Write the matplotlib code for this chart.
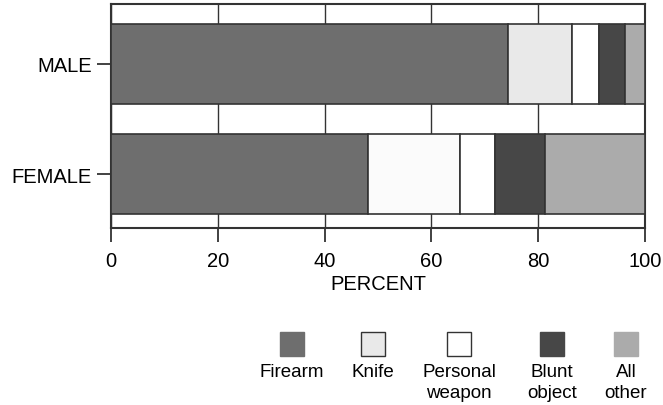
import matplotlib.pyplot as plt
from matplotlib.patches import Rectangle

plt.rcParams['font.family'] = ['Liberation Sans', 'DejaVu Sans']

groups = ['FEMALE', 'MALE']
weapons = ['Firearm', 'Knife', 'Personal\nweapon', 'Blunt\nobject', 'All\nother']
firearm = [48.2, 74.3]
knife = [17.1, 12.0]
personal = [6.6, 5.0]
blunt = [9.3, 5.0]
other = [18.8, 3.7]
colors = ['#6e6e6e', '#e9e9e9', '#ffffff', '#474747', '#ababab']
# the female knife bar prints almost white in the original
bar_colors = [colors[0], ['#fbfbfb', '#e9e9e9'], colors[2], colors[3], colors[4]]

fig = plt.figure(figsize=(6.63, 4.06), dpi=100)
ax = fig.add_axes([0.1674, 0.436, 0.8055, 0.5517])

ypos = [0, 1]
left = [0, 0]
for vals, c in zip([firearm, knife, personal, blunt, other], bar_colors):
    ax.barh(ypos, vals, left=left, height=0.73, color=c,
            edgecolor='#333333', linewidth=1.2, zorder=3)
    left = [a + b for a, b in zip(left, vals)]

ax.set_xlim(0, 100)
ax.set_ylim(-0.49, 1.545)
ax.set_xticks([0, 20, 40, 60, 80, 100])
ax.set_yticks(ypos)
ax.set_yticklabels(groups)
ax.xaxis.grid(True, color='#333333', linewidth=1.0, zorder=0)
ax.tick_params(axis='both', direction='out', length=10, width=1.3,
               labelsize=14.5, color='#333333', pad=4)
ax.tick_params(axis='x', length=10, pad=6.5)
for s in ax.spines.values():
    s.set_linewidth(1.5)
    s.set_color('#333333')
ax.set_xlabel('PERCENT', fontsize=14.5, labelpad=3)

# legend: squares with labels underneath
centers = [292, 373, 459, 552, 626]
for name, c, xc in zip(weapons, colors, centers):
    fig.patches.append(Rectangle(((xc - 12) / 663, 1 - 357 / 406), 24 / 663, 24 / 406,
                                 transform=fig.transFigure, facecolor=c,
                                 edgecolor='#333333' if c in ('#e9e9e9', '#ffffff') else c,
                                 linewidth=1.0))
    fig.text(xc / 663, 1 - 364 / 406, name, ha='center', va='top',
             fontsize=13.5, linespacing=1.3)

fig.savefig('out.png', dpi=100)
